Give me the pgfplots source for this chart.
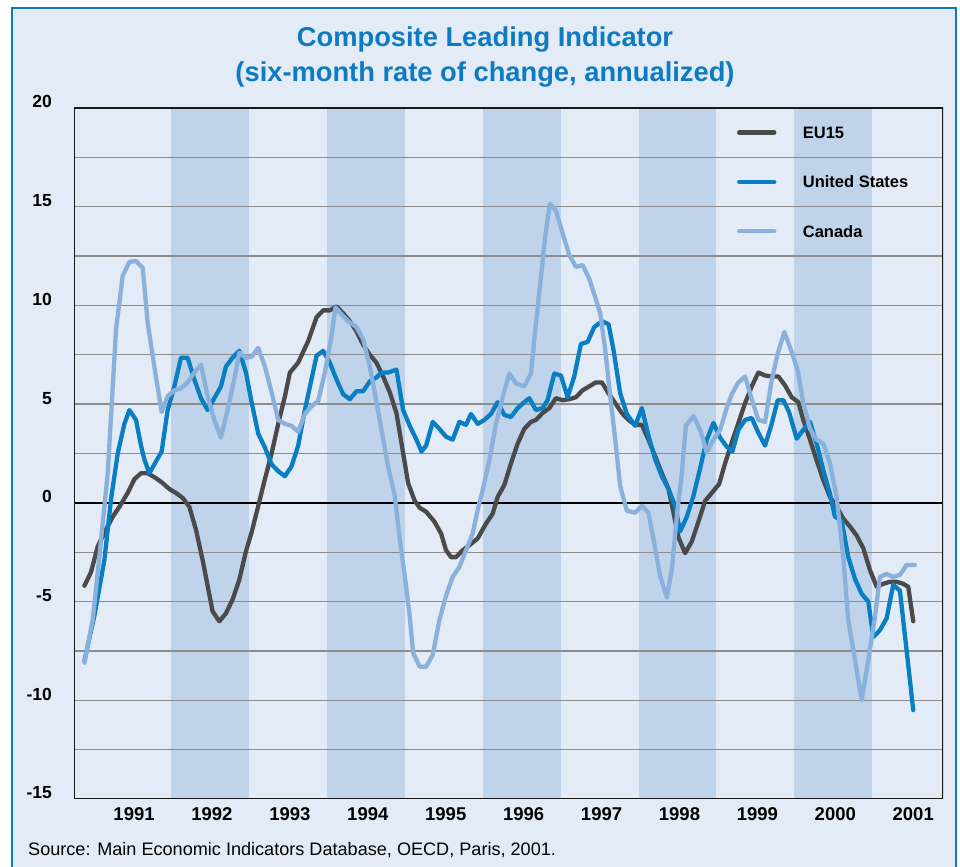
\documentclass[border=0pt]{standalone}
\usepackage{pgfplots}
\pgfplotsset{compat=1.18}
\usepackage{pgfplotstable}
\usepackage{fontspec}
\setmainfont{Liberation Sans}
\definecolor{bgc}{HTML}{E3EBF6}
\definecolor{bandc}{HTML}{BFD3EA}
\definecolor{gridc}{HTML}{8C8C8C}
\definecolor{euc}{HTML}{4A4A4A}
\definecolor{usc}{HTML}{0A7EC2}
\definecolor{cac}{HTML}{8AB1DC}
\definecolor{titc}{HTML}{0D7BC2}
\pgfplotsset{cli legend/.style={legend image code/.code={\draw[#1] (2bp,0bp) -- (37bp,0bp);}}}

\pgfplotstableread{
t v
1990.889 -4.2
1990.974 -3.5
1991.060 -2.2
1991.167 -1.35
1991.252 -0.7
1991.338 -0.2
1991.444 0.5
1991.530 1.2
1991.615 1.5
1991.701 1.5
1991.808 1.25
1991.893 1.0
1991.979 0.7
1992.064 0.5
1992.150 0.25
1992.235 -0.2
1992.320 -1.35
1992.406 -2.9
1992.470 -4.2
1992.534 -5.5
1992.620 -6.0
1992.705 -5.6
1992.790 -4.9
1992.876 -3.9
1992.962 -2.45
1993.034 -1.5
1993.120 -0.15
1993.205 1.2
1993.291 2.5
1993.376 4.0
1993.462 5.4
1993.526 6.6
1993.632 7.1
1993.761 8.2
1993.868 9.4
1993.953 9.75
1994.038 9.75
1994.124 9.95
1994.209 9.6
1994.295 9.2
1994.380 8.7
1994.466 8.0
1994.551 7.5
1994.637 7.1
1994.722 6.4
1994.808 5.6
1994.893 4.55
1994.957 3.05
1995.043 1.0
1995.128 0.1
1995.192 -0.25
1995.274 -0.45
1995.380 -0.95
1995.466 -1.55
1995.530 -2.4
1995.594 -2.75
1995.658 -2.75
1995.744 -2.4
1995.829 -2.15
1995.936 -1.8
1996.043 -1.05
1996.128 -0.55
1996.192 0.3
1996.278 0.9
1996.363 2.0
1996.449 3.0
1996.534 3.75
1996.620 4.1
1996.684 4.2
1996.769 4.55
1996.855 4.8
1996.940 5.3
1997.026 5.2
1997.111 5.25
1997.197 5.35
1997.282 5.7
1997.368 5.9
1997.453 6.1
1997.530 6.1
1997.615 5.55
1997.701 5.05
1997.786 4.55
1997.872 4.2
1997.957 3.95
1998.043 3.95
1998.128 3.2
1998.214 2.35
1998.299 1.5
1998.385 0.7
1998.449 -0.5
1998.513 -1.75
1998.598 -2.55
1998.684 -1.95
1998.769 -0.95
1998.855 0.1
1998.940 0.5
1999.034 0.95
1999.111 2.0
1999.197 3.05
1999.282 4.05
1999.368 5.05
1999.453 5.9
1999.538 6.6
1999.624 6.45
1999.709 6.4
1999.795 6.4
1999.880 5.95
1999.966 5.35
2000.051 5.1
2000.115 4.2
2000.201 3.2
2000.286 2.15
2000.372 1.15
2000.457 0.3
2000.543 -0.2
2000.628 -0.8
2000.714 -1.2
2000.799 -1.65
2000.885 -2.3
2000.970 -3.4
2001.056 -4.25
2001.141 -4.1
2001.226 -4.0
2001.312 -4.0
2001.397 -4.1
2001.462 -4.25
2001.526 -6.0
}\eudata

\pgfplotstableread{
t v
1990.889 -8.0
1991.017 -5.7
1991.145 -2.9
1991.231 0.2
1991.316 2.5
1991.402 4.0
1991.466 4.7
1991.551 4.2
1991.615 2.9
1991.658 2.2
1991.722 1.5
1991.808 2.1
1991.880 2.6
1991.957 4.7
1992.043 5.9
1992.128 7.35
1992.214 7.35
1992.299 6.25
1992.385 5.3
1992.470 4.7
1992.556 5.3
1992.641 5.9
1992.705 6.9
1992.790 7.35
1992.876 7.7
1992.962 6.6
1993.034 5.1
1993.120 3.5
1993.205 2.8
1993.291 1.95
1993.376 1.6
1993.462 1.35
1993.547 1.85
1993.632 2.9
1993.718 4.7
1993.803 6.25
1993.868 7.45
1993.953 7.7
1994.038 7.1
1994.124 6.25
1994.209 5.5
1994.295 5.25
1994.380 5.65
1994.466 5.65
1994.551 6.15
1994.637 6.35
1994.701 6.6
1994.786 6.6
1994.893 6.75
1994.979 4.7
1995.064 3.9
1995.150 3.2
1995.214 2.6
1995.274 2.9
1995.359 4.1
1995.444 3.75
1995.530 3.35
1995.615 3.2
1995.701 4.1
1995.786 3.95
1995.850 4.5
1995.936 4.0
1996.021 4.2
1996.107 4.5
1996.192 5.1
1996.278 4.45
1996.363 4.35
1996.449 4.8
1996.534 5.1
1996.598 5.3
1996.684 4.7
1996.769 4.8
1996.833 5.2
1996.919 6.55
1997.004 6.45
1997.090 5.35
1997.175 6.4
1997.261 8.05
1997.346 8.15
1997.432 8.9
1997.530 9.2
1997.615 9.05
1997.679 7.75
1997.765 5.55
1997.850 4.5
1997.957 3.9
1998.043 4.8
1998.128 3.4
1998.214 2.2
1998.299 1.35
1998.385 0.7
1998.470 -0.15
1998.534 -1.45
1998.620 -0.7
1998.705 0.35
1998.791 1.75
1998.876 3.2
1998.962 4.05
1999.047 3.3
1999.132 2.85
1999.205 2.6
1999.282 3.7
1999.368 4.2
1999.453 4.3
1999.538 3.55
1999.624 2.9
1999.709 4.0
1999.786 5.2
1999.859 5.2
1999.932 4.6
2000.030 3.25
2000.115 3.7
2000.201 4.1
2000.286 3.0
2000.372 1.65
2000.457 0.45
2000.521 -0.7
2000.607 -0.9
2000.692 -2.75
2000.778 -3.85
2000.863 -4.6
2000.949 -5.0
2001.013 -6.8
2001.098 -6.45
2001.184 -5.85
2001.269 -4.15
2001.355 -4.45
2001.440 -7.45
2001.526 -10.5
}\usdata

\pgfplotstableread{
t v
1990.889 -8.1
1990.996 -5.9
1991.081 -2.7
1991.188 1.5
1991.295 8.8
1991.380 11.5
1991.466 12.2
1991.551 12.25
1991.637 11.9
1991.701 9.1
1991.786 6.9
1991.880 4.6
1991.957 5.4
1992.043 5.7
1992.128 5.8
1992.214 6.1
1992.299 6.6
1992.385 7.0
1992.470 5.4
1992.556 4.2
1992.641 3.3
1992.726 4.7
1992.812 6.25
1992.876 7.6
1992.962 7.35
1993.034 7.4
1993.120 7.85
1993.205 6.9
1993.291 5.6
1993.376 4.2
1993.462 4.0
1993.547 3.9
1993.632 3.6
1993.718 4.5
1993.803 4.9
1993.889 5.15
1993.974 6.6
1994.060 8.45
1994.111 9.9
1994.188 9.55
1994.274 9.2
1994.380 8.9
1994.466 8.3
1994.551 6.9
1994.615 5.6
1994.701 3.7
1994.786 1.85
1994.872 0.35
1994.936 -1.85
1995.000 -3.7
1995.064 -5.75
1995.107 -7.6
1995.192 -8.3
1995.274 -8.3
1995.359 -7.7
1995.444 -5.95
1995.530 -4.7
1995.615 -3.75
1995.701 -3.25
1995.786 -2.4
1995.872 -1.55
1995.936 -0.35
1996.000 0.65
1996.085 2.15
1996.171 4.0
1996.256 5.35
1996.342 6.55
1996.427 6.05
1996.534 5.9
1996.620 6.55
1996.684 9.1
1996.748 11.45
1996.803 13.5
1996.863 15.15
1996.940 14.8
1997.026 13.65
1997.111 12.55
1997.197 11.95
1997.282 12.05
1997.368 11.35
1997.453 10.3
1997.509 9.6
1997.573 7.75
1997.637 5.4
1997.701 3.2
1997.765 0.85
1997.850 -0.4
1997.957 -0.5
1998.043 -0.15
1998.128 -0.5
1998.192 -1.85
1998.278 -3.7
1998.363 -4.8
1998.427 -3.4
1998.491 -0.7
1998.556 1.5
1998.607 3.9
1998.705 4.4
1998.791 3.7
1998.876 2.55
1998.962 3.2
1999.047 3.7
1999.132 4.8
1999.197 5.5
1999.282 6.1
1999.368 6.4
1999.453 5.25
1999.538 4.2
1999.624 4.1
1999.709 6.2
1999.786 7.55
1999.872 8.65
1999.957 7.75
2000.043 6.7
2000.115 5.05
2000.201 3.75
2000.286 3.2
2000.372 3.0
2000.457 2.0
2000.543 0.3
2000.628 -2.75
2000.692 -5.95
2000.778 -7.95
2000.863 -10.0
2000.949 -7.95
2001.034 -5.8
2001.098 -3.75
2001.184 -3.6
2001.269 -3.75
2001.355 -3.65
2001.440 -3.15
2001.547 -3.15
}\cadata

\begin{document}
\begin{tikzpicture}[x=1bp,y=1bp]
\useasboundingbox (0,0) rectangle (960,867);
\fill[white] (0,0) rectangle (960,867);
\fill[bgc] (12,0) rectangle (956,859);
\draw[titc, line width=2.6bp] (12,-3) -- (12,859) -- (956,859) -- (956,-3);
\node[anchor=base, text=titc, inner sep=0pt, font=\fontsize{27.3bp}{31bp}\selectfont\bfseries] at (485,820) {Composite Leading Indicator};
\node[anchor=base, text=titc, inner sep=0pt, font=\fontsize{27.3bp}{31bp}\selectfont\bfseries] at (485,785.5) {(six-month rate of change, annualized)};
\node[anchor=base west, inner sep=0pt, font=\fontsize{18.1bp}{22bp}\selectfont] at (28,11.4) {Source: Main Economic Indicators Database, OECD, Paris, 2001.};
\begin{axis}[
  at={(74bp,68bp)}, anchor=south west,
  scale only axis, width=869bp, height=691bp,
  xmin=1990.755, xmax=2001.908, ymin=-15, ymax=20,
  axis line style={draw=none},
  xtick={1991.5,1992.5,1993.5,1994.5,1995.5,1996.5,1997.5,1998.5,1999.5,2000.5,2001.5},
  xticklabels={1991,1992,1993,1994,1995,1996,1997,1998,1999,2000,2001},
  ytick={-15,-10,-5,0,5,10,15,20},
  yticklabels={-15,-10,-5,0,5,10,15,20},
  major tick length=0pt, tick style={draw=none},
  xticklabel style={font=\fontsize{18.5bp}{20bp}\selectfont\bfseries, anchor=base, inner sep=0pt, yshift=-22bp, xshift=2bp},
  yticklabel style={font=\fontsize{17.5bp}{20bp}\selectfont\bfseries, anchor=base east, inner sep=0pt, xshift=-22bp},
  legend style={draw=none, fill=none, at={(0.763,0.973)}, anchor=north west,
    inner sep=0pt, outer sep=0pt, row sep=37.3bp, column sep=26.5bp,
    font=\fontsize{16.5bp}{19bp}\selectfont\bfseries,
    cells={anchor=west},
    nodes={inner sep=0pt, text height=12bp, text depth=0pt}},
  legend cell align=left,
  cli legend,
]
\fill[bandc] (axis cs:1992,-15) rectangle (axis cs:1993,20);
\fill[bandc] (axis cs:1994,-15) rectangle (axis cs:1995,20);
\fill[bandc] (axis cs:1996,-15) rectangle (axis cs:1997,20);
\fill[bandc] (axis cs:1998,-15) rectangle (axis cs:1999,20);
\fill[bandc] (axis cs:2000,-15) rectangle (axis cs:2001,20);
\foreach \yy in {-12.5,-10,-7.5,-5,-2.5,2.5,5,7.5,10,12.5,15,17.5}{
  \edef\temp{\noexpand\draw[gridc, line width=1.4bp] (axis cs:1990.755,\yy) -- (axis cs:2001.908,\yy);}
  \temp
}
\draw[black, line width=2.2bp] (axis cs:1990.755,0) -- (axis cs:2001.908,0);
\draw[black!90, line width=1.6bp] (rel axis cs:0,0) rectangle (rel axis cs:1,1);
\addplot[euc, line width=4.3bp, line cap=round, line join=round] table[x=t,y=v]{\eudata};
\addlegendentry{EU15}
\addplot[usc, line width=4.3bp, line cap=round, line join=round] table[x=t,y=v]{\usdata};
\addlegendentry{United States}
\addplot[cac, line width=4.3bp, line cap=round, line join=round] table[x=t,y=v]{\cadata};
\addlegendentry{Canada}
\end{axis}
\end{tikzpicture}
\end{document}
